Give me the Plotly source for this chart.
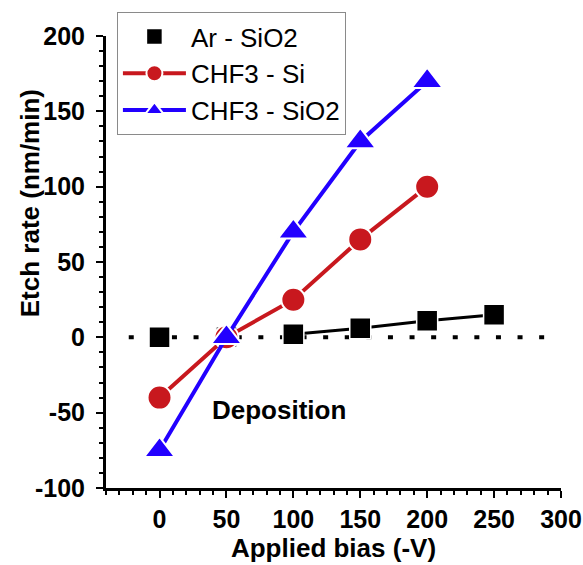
import plotly.graph_objects as go

# ---- data ----
BIAS = [0, 50, 100, 150, 200, 250]
AR_SIO2 = [0, 0, 2, 6, 11, 15]

CHF3_BIAS = [0, 50, 100, 150, 200]
CHF3_SI = [-40, 0, 25, 65, 100]
CHF3_SIO2 = [-75, 0, 70, 130, 170]

ZERO_X = [-23, 288]
ZERO_Y = [0, 0]

X_TICKS = [0, 50, 100, 150, 200, 250, 300]
Y_TICKS = [-100, -50, 0, 50, 100, 150, 200]

RED = "#C8181E"
BLUE = "#2200FF"
FONT = "Liberation Sans, Arial, sans-serif"

# Ar line drawn only where connected in the original (from 100 V)
ar_line_x = [x for x in BIAS if x >= 100]
ar_line_y = [y for x, y in zip(BIAS, AR_SIO2) if x >= 100]

fig = go.Figure()

fig.add_trace(go.Scatter(
    x=ZERO_X, y=ZERO_Y, mode="lines", showlegend=False, hoverinfo="skip",
    line=dict(color="black", width=4, dash="5px,16.6px"),
))

fig.add_trace(go.Scatter(
    x=ar_line_x, y=ar_line_y, mode="lines", showlegend=False,
    line=dict(color="black", width=3),
))

fig.add_trace(go.Scatter(
    x=BIAS, y=AR_SIO2, mode="markers", name="Ar - SiO2",
    marker=dict(symbol="square", size=21, color="black",
                line=dict(color="white", width=1.5)),
))

fig.add_trace(go.Scatter(
    x=CHF3_BIAS, y=CHF3_SI, mode="lines+markers", name="CHF3 - Si",
    line=dict(color=RED, width=4),
    marker=dict(symbol="circle", size=24, color=RED,
                line=dict(color="white", width=2)),
))

fig.add_trace(go.Scatter(
    x=CHF3_BIAS, y=CHF3_SIO2, mode="lines+markers", name="CHF3 - SiO2",
    line=dict(color=BLUE, width=4),
    marker=dict(symbol="triangle-up", size=27, color=BLUE,
                line=dict(color="white", width=2)),
))

fig.add_annotation(
    x=89, y=-48, text="<b>Deposition</b>", showarrow=False,
    font=dict(family=FONT, size=26, color="black"),
)

# y-axis title placed as a rotated annotation to match original position
fig.add_annotation(
    xref="paper", yref="paper", x=-0.167, y=0.63,
    xanchor="center", yanchor="middle", textangle=-90,
    text="<b>Etch rate (nm/min)</b>", showarrow=False,
    font=dict(family=FONT, size=26, color="black"),
)

def hyphen_labels(vals):
    return [str(v) for v in vals]

axis_common = dict(
    showgrid=False, zeroline=False, showline=True,
    linecolor="black", linewidth=3,
    ticks="outside", ticklen=7, tickwidth=2, tickcolor="black",
    tickfont=dict(family=FONT, size=25, color="black", weight="bold"),
    minor=dict(dtick=10, ticks="outside", ticklen=4, tickwidth=2,
               tickcolor="black", showgrid=False),
)

fig.update_layout(
    width=583, height=565,
    margin=dict(l=106, r=22, t=36, b=77, autoexpand=False),
    paper_bgcolor="white", plot_bgcolor="white",
    font=dict(family=FONT, color="black"),
    xaxis=dict(
        range=[-40, 300], tickvals=X_TICKS, ticktext=hyphen_labels(X_TICKS),
        title=dict(text="<b>Applied bias (-V)</b>",
                   font=dict(family=FONT, size=26, color="black"), standoff=4),
        **axis_common,
    ),
    yaxis=dict(
        range=[-100, 200], tickvals=Y_TICKS, ticktext=hyphen_labels(Y_TICKS),
        ticklabelstandoff=6,
        **axis_common,
    ),
    legend=dict(
        x=0.024, y=1.053, xanchor="left", yanchor="top",
        bgcolor="white", bordercolor="#8a8a8a", borderwidth=1,
        font=dict(family=FONT, size=26, color="black"),
        itemwidth=63, tracegroupgap=0,
    ),
    showlegend=True,
)

fig.write_html("out.html", config={"displayModeBar": False},
               post_script="document.body.style.margin='0';")
